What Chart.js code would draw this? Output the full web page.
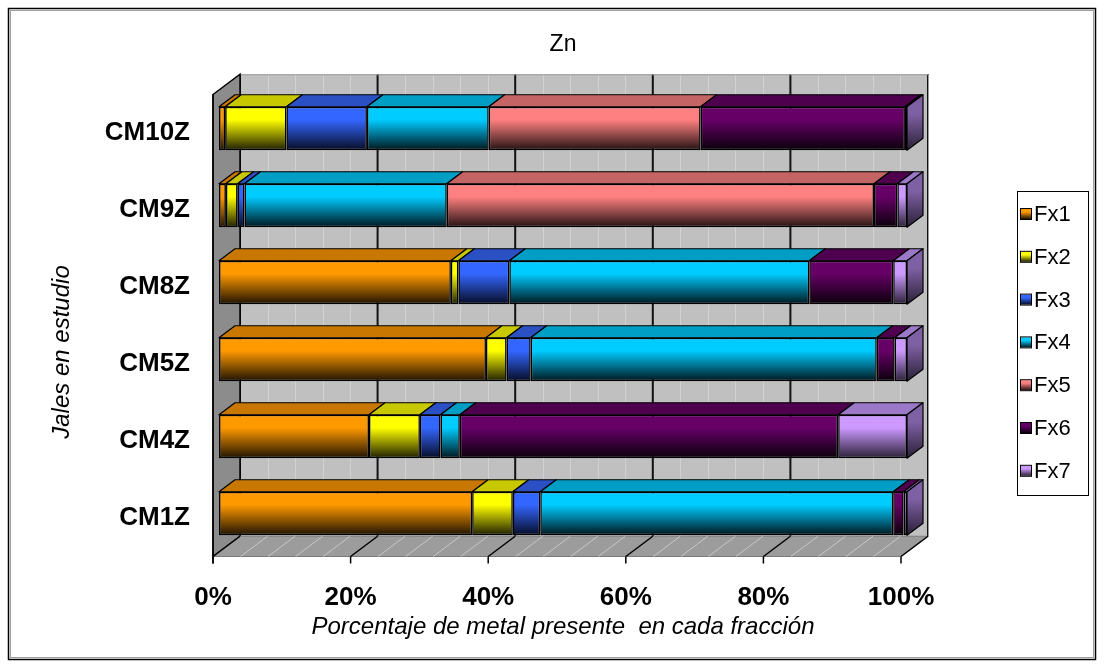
<!DOCTYPE html>
<html>
<head>
<meta charset="utf-8">
<title>Zn</title>
<script src="https://cdn.jsdelivr.net/npm/chart.js@4.4.1/dist/chart.umd.min.js"></script>
<style>
  html, body { margin: 0; padding: 0; background: #ffffff; }
  #wrap { width: 1104px; height: 668px; position: relative; }
</style>
</head>
<body>
<div id="wrap"><canvas id="chart" width="1104" height="668"></canvas></div>
<script>
// Categories (tailings samples) and the fraction series, in percent
const categories = ['CM10Z', 'CM9Z', 'CM8Z', 'CM5Z', 'CM4Z', 'CM1Z'];
const seriesNames = ['Fx1', 'Fx2', 'Fx3', 'Fx4', 'Fx5', 'Fx6', 'Fx7'];
const fx1 = [0.9, 1.0, 33.7, 38.8, 21.8, 36.8];
const fx2 = [8.9, 1.7, 1.1, 3.0, 7.4, 5.9];
const fx3 = [11.7, 1.0, 7.4, 3.5, 3.0, 4.0];
const fx4 = [17.7, 29.4, 43.6, 50.3, 2.8, 51.3];
const fx5 = [30.8, 62.1, 0, 0, 0, 0];
const fx6 = [29.7, 3.4, 12.2, 2.6, 55.0, 1.5];
const fx7 = [0.3, 1.4, 2.0, 1.8, 10.0, 0.5];
const xTickLabels = ['0%', '20%', '40%', '60%', '80%', '100%'];
const chartTitle = 'Zn';
const xAxisTitle = 'Porcentaje de metal presente  en cada fracción';
const yAxisTitle = 'Jales en estudio';

// Styles
const frontColors = ['#FF9900', '#FFFF00', '#3366FF', '#00CCFF', '#FF8080', '#660066', '#CC99FF'];
const darkColors  = ['#1E1200', '#1E1E00', '#060C24', '#00151D', '#241212', '#0A000A', '#2A2036'];
const topColors   = ['#C87800', '#C8C800', '#2A50C4', '#009EC4', '#C46464', '#4E004E', '#9C78C8'];
const sideColors  = ['#A06000', '#A0A000', '#2040A0', '#0080A0', '#A05050', '#3E003E', '#7E60A4'];
const FONT = "'Liberation Sans', Arial, sans-serif";
const barDepth = 16;     // x-offset of the bars' back faces
const wallDepth = 21;    // x-offset of the back wall
const frontDepth = 6;    // x-offset of the front edge of floor / side wall
const slope = 0.75;      // y-offset per unit of x-offset for depth
const minorStep = 4;     // floor / wall minor grid spacing in percent

const seriesValues = [fx1, fx2, fx3, fx4, fx5, fx6, fx7];

function frontGradient(ctx, top, bottom, i) {
  const g = ctx.createLinearGradient(0, top, 0, bottom);
  g.addColorStop(0, frontColors[i]);
  g.addColorStop(0.3, frontColors[i]);
  g.addColorStop(1, darkColors[i]);
  return g;
}

const datasets = seriesNames.map((name, i) => ({
  label: name,
  data: seriesValues[i],
  borderColor: '#000000',
  borderWidth: 1.5,
  borderSkipped: false,
  categoryPercentage: 1,
  barPercentage: 0.565,
  backgroundColor: (c) => {
    const chart = c.chart;
    const y = chart.scales && chart.scales.y;
    if (!chart.chartArea || !y || c.type !== 'data') return frontColors[i];
    const yc = y.getPixelForValue(c.dataIndex);
    const half = (y.height / categories.length) * 0.565 / 2;
    return frontGradient(chart.ctx, yc - half, yc + half, i);
  }
}));

function poly(ctx, pts) {
  ctx.beginPath();
  ctx.moveTo(pts[0][0], pts[0][1]);
  for (let k = 1; k < pts.length; k++) ctx.lineTo(pts[k][0], pts[k][1]);
  ctx.closePath();
}

// Walls, floor and grid of the 3-D box, drawn behind the bars
const scenePlugin = {
  id: 'scene3d',
  beforeDatasetsDraw(chart) {
    const { ctx, chartArea: a, scales: { x } } = chart;
    const bx = wallDepth, by = -wallDepth * slope;
    const fx = -frontDepth, fy = frontDepth * slope;
    ctx.save();
    // back wall
    ctx.fillStyle = '#C0C0C0';
    ctx.fillRect(a.left + bx, a.top + by, a.width, a.height);
    // back wall grid
    for (let v = 0; v <= 100; v += minorStep) {
      if (v % 20 === 0) continue;
      const px = Math.round(x.getPixelForValue(v) + bx) + 0.5;
      ctx.strokeStyle = '#D2D2D2';
      ctx.lineWidth = 1;
      ctx.beginPath(); ctx.moveTo(px, a.top + by); ctx.lineTo(px, a.bottom + by); ctx.stroke();
    }
    x.ticks.forEach(t => {
      const px = x.getPixelForValue(t.value) + bx;
      ctx.strokeStyle = '#111111';
      ctx.lineWidth = 2;
      ctx.beginPath(); ctx.moveTo(px, a.top + by); ctx.lineTo(px, a.bottom + by); ctx.stroke();
    });
    // back wall edge lines
    ctx.strokeStyle = '#9A9A9A';
    ctx.lineWidth = 1;
    ctx.beginPath();
    ctx.moveTo(a.left + bx, a.top + by + 0.5); ctx.lineTo(a.right + bx + 0.5, a.top + by + 0.5);
    ctx.lineTo(a.right + bx + 0.5, a.bottom + by);
    ctx.stroke();

    // left side wall
    poly(ctx, [[a.left + fx, a.top + fy], [a.left + bx, a.top + by], [a.left + bx, a.bottom + by], [a.left + fx, a.bottom + fy]]);
    ctx.fillStyle = '#8C8C8C';
    ctx.fill();
    ctx.strokeStyle = '#000000';
    ctx.lineWidth = 1.5;
    ctx.stroke();

    // floor
    poly(ctx, [[a.left + fx, a.bottom + fy], [a.right + fx, a.bottom + fy], [a.right + bx, a.bottom + by], [a.left + bx, a.bottom + by]]);
    ctx.fillStyle = '#9C9C9C';
    ctx.fill();
    ctx.strokeStyle = '#7A7A7A';
    ctx.lineWidth = 1;
    ctx.stroke();
    for (let v = 0; v <= 100; v += minorStep) {
      if (v % 20 === 0) continue;
      const p = x.getPixelForValue(v);
      ctx.strokeStyle = '#C8C8C8';
      ctx.lineWidth = 1;
      ctx.beginPath(); ctx.moveTo(p + fx, a.bottom + fy); ctx.lineTo(p + bx, a.bottom + by); ctx.stroke();
    }
    x.ticks.forEach(t => {
      const p = x.getPixelForValue(t.value);
      ctx.strokeStyle = '#000000';
      ctx.lineWidth = 1.5;
      ctx.beginPath(); ctx.moveTo(p + fx, a.bottom + fy); ctx.lineTo(p + bx, a.bottom + by); ctx.stroke();
      // tick mark under the front edge
      ctx.beginPath(); ctx.moveTo(p + fx, a.bottom + fy); ctx.lineTo(p + fx, a.bottom + fy + 7); ctx.stroke();
    });
    // front edge of the side wall
    ctx.strokeStyle = '#000000';
    ctx.lineWidth = 1.5;
    ctx.beginPath(); ctx.moveTo(a.left + fx, a.top + fy); ctx.lineTo(a.left + fx, a.bottom + fy + 7); ctx.stroke();
    ctx.restore();
  },
  // top and end faces of the stacked bars
  afterDatasetsDraw(chart) {
    const ctx = chart.ctx;
    const dx = barDepth, dy = -barDepth * slope;
    ctx.save();
    ctx.strokeStyle = '#000000';
    ctx.lineWidth = 1.2;
    ctx.lineJoin = 'round';
    for (let j = 0; j < categories.length; j++) {
      let last = null;
      chart.data.datasets.forEach((ds, i) => {
        const meta = chart.getDatasetMeta(i);
        if (meta.hidden || !ds.data[j]) return;
        const el = meta.data[j];
        const p = el.getProps(['x', 'y', 'base', 'height'], true);
        const x0 = Math.min(p.x, p.base), x1 = Math.max(p.x, p.base);
        const t = p.y - p.height / 2, b = p.y + p.height / 2;
        poly(ctx, [[x0, t], [x1, t], [x1 + dx, t + dy], [x0 + dx, t + dy]]);
        ctx.fillStyle = topColors[i];
        ctx.fill();
        ctx.stroke();
        if (!last || x1 >= last.x1) last = { x1, t, b, i };
      });
      if (last) {
        const g = ctx.createLinearGradient(0, last.t + dy, 0, last.b);
        g.addColorStop(0, sideColors[last.i]);
        g.addColorStop(0.35, sideColors[last.i]);
        g.addColorStop(1, darkColors[last.i]);
        poly(ctx, [[last.x1, last.t], [last.x1 + dx, last.t + dy], [last.x1 + dx, last.b + dy], [last.x1, last.b]]);
        ctx.fillStyle = g;
        ctx.fill();
        ctx.stroke();
      }
    }
    ctx.restore();
  },
  // y-axis title, legend and frame
  afterDraw(chart) {
    const ctx = chart.ctx;
    ctx.save();
    // y-axis title
    ctx.translate(62, 352);
    ctx.rotate(-Math.PI / 2);
    ctx.font = 'italic 24px ' + FONT;
    ctx.fillStyle = '#000000';
    ctx.textAlign = 'center';
    ctx.textBaseline = 'middle';
    ctx.fillText(yAxisTitle, 0, 0);
    ctx.restore();

    // legend
    ctx.save();
    const lx = 1017, ly = 191, lw = 71, lh = 304;
    ctx.fillStyle = '#FFFFFF';
    ctx.fillRect(lx, ly, lw, lh);
    ctx.strokeStyle = '#000000';
    ctx.lineWidth = 1;
    ctx.strokeRect(lx + 0.5, ly + 0.5, lw, lh);
    ctx.font = '22px ' + FONT;
    ctx.textBaseline = 'middle';
    ctx.textAlign = 'left';
    chart.data.datasets.forEach((ds, i) => {
      const cy = 214 + i * 42.8;
      const g = frontGradient(ctx, cy - 5, cy + 5, i);
      ctx.fillStyle = g;
      ctx.fillRect(1021, cy - 5, 10, 10);
      ctx.strokeStyle = '#000000';
      ctx.lineWidth = 1;
      ctx.strokeRect(1020.5, cy - 5.5, 11, 11);
      ctx.fillStyle = '#000000';
      ctx.fillText(ds.label, 1034, cy + 1);
    });
    ctx.restore();

    // outer frame
    ctx.save();
    ctx.strokeStyle = '#000000';
    ctx.lineWidth = 1.5;
    ctx.strokeRect(8.5, 8.5, 1087, 651);
    ctx.strokeStyle = '#A0A0A0';
    ctx.lineWidth = 1;
    ctx.strokeRect(10.5, 10.5, 1083, 647);
    ctx.restore();
  }
};

new Chart(document.getElementById('chart'), {
  type: 'bar',
  data: { labels: categories, datasets },
  plugins: [scenePlugin],
  options: {
    responsive: false,
    animation: false,
    indexAxis: 'y',
    layout: { padding: { left: 19, right: 197, top: 0, bottom: 16 } },
    plugins: {
      legend: { display: false },
      tooltip: { enabled: false },
      title: {
        display: true,
        text: chartTitle,
        fullSize: false,
        color: '#000000',
        font: { family: FONT, size: 23, weight: 'normal', lineHeight: 1.2 },
        padding: { top: 31, bottom: 31.4 }
      }
    },
    scales: {
      x: {
        stacked: true,
        min: 0,
        max: 100,
        grid: { display: false, drawTicks: false },
        border: { display: false },
        ticks: {
          stepSize: 20,
          autoSkip: false,
          maxRotation: 0,
          labelOffset: -6,
          padding: 30,
          color: '#000000',
          font: { family: FONT, size: 26, weight: 'bold' },
          callback: (v, i) => xTickLabels[i]
        },
        title: {
          display: true,
          text: xAxisTitle,
          color: '#000000',
          font: { family: FONT, size: 24, style: 'italic', weight: 'normal', lineHeight: 1.2 },
          padding: { top: 0, bottom: 10 }
        },
        afterFit: (s) => { s.height = 100; }
      },
      y: {
        stacked: true,
        grid: { display: false, drawTicks: false },
        border: { display: false },
        ticks: {
          padding: 29,
          labelOffset: 4.5,
          color: '#000000',
          font: { family: FONT, size: 26, weight: 'bold' }
        },
        afterFit: (s) => { s.width = 200; }
      }
    }
  }
});
</script>
</body>
</html>
